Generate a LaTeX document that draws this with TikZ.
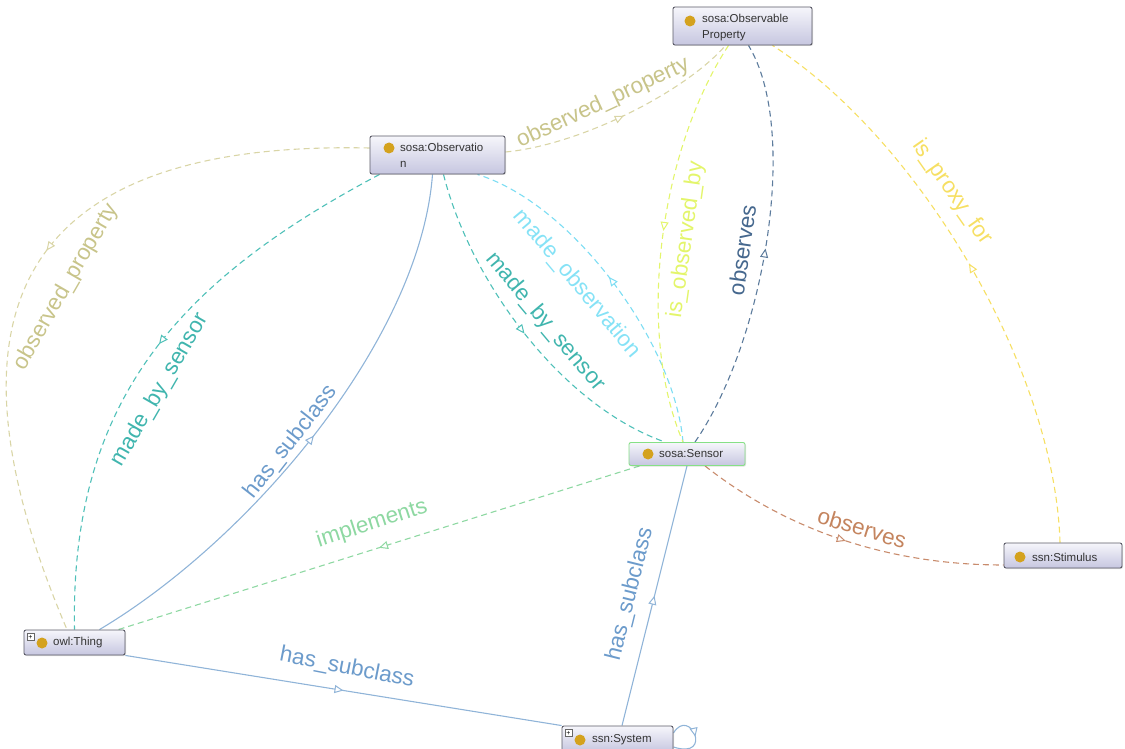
\documentclass[tikz,border=0pt]{standalone}
\usepackage{fontspec}
\setmainfont{Liberation Sans}
\usetikzlibrary{arrows.meta,decorations.markings,shadows}
\definecolor{nodeborder}{HTML}{5A5A66}
\definecolor{ntop}{HTML}{F6F6FB}
\definecolor{nbot}{HTML}{C6C6E0}
\definecolor{dotc}{HTML}{D4A21E}
\definecolor{sensorborder}{HTML}{86E086}
\definecolor{khakiL}{HTML}{D9D5A6}
\definecolor{khakiT}{HTML}{C8C48A}
\definecolor{tealL}{HTML}{4FC0B8}
\definecolor{tealT}{HTML}{40B5AE}
\definecolor{subL}{HTML}{90B4D8}
\definecolor{subT}{HTML}{6C9BCB}
\definecolor{cyanL}{HTML}{7CDDF3}
\definecolor{cyanT}{HTML}{86E2F6}
\definecolor{ygL}{HTML}{E3F56B}
\definecolor{slateL}{HTML}{5C7B9C}
\definecolor{slateT}{HTML}{46688E}
\definecolor{yelL}{HTML}{F6DF63}
\definecolor{brownL}{HTML}{C88B6C}
\definecolor{brownT}{HTML}{C4845E}
\definecolor{greenL}{HTML}{8ED8A2}
\pgfdeclarelayer{background}
\pgfsetlayers{background,main}
\begin{document}
\begin{tikzpicture}[x=1pt,y=1pt,
  cls/.style={draw=nodeborder, line width=0.9pt, rounded corners=2pt, top color=ntop, bottom color=nbot,
    drop shadow={opacity=0.25, shadow xshift=1pt, shadow yshift=-1pt}, inner sep=0pt},
  ntext/.style={font=\fontsize{11.5}{16}\selectfont, text=black!80, anchor=west, inner sep=0pt, align=left},
  dotst/.style={circle, fill=dotc, inner sep=0pt, minimum size=11pt},
  plusbox/.style={draw=black!60, fill=white, minimum size=7pt, inner sep=0pt, font=\fontsize{7}{7}\selectfont},
  elabel/.style={font=\fontsize{22.5}{24}\selectfont, inner sep=0pt},
  edge/.style={line width=1.1pt},
  dsh/.style={dash pattern=on 6pt off 4pt},
  midarrow/.style={postaction={decorate}, decoration={markings, mark=at position #1 with {\arrow[solid, line width=1pt]{Triangle[length=9pt, width=8pt, fill=white]}}}},
  midarrow/.default=0.5]
\useasboundingbox (0,0) rectangle (1125,-749);

% class nodes
\node[cls, minimum width=139pt, minimum height=38pt] (obsprop) at (742.5,-26) {};
\node[dotst] (obspropdot) at (690,-21) {};
\node[ntext] (obsproptext) at (702,-28) {sosa:Observable\\Property};

\node[cls, minimum width=135pt, minimum height=38pt] (obs) at (437.5,-155) {};
\node[dotst] (obsdot) at (389,-148) {};
\node[ntext] (obstext) at (400,-155) {sosa:Observatio\\n};

\node[cls, draw=sensorborder, minimum width=116pt, minimum height=23pt] (sensor) at (687,-454) {};
\node[dotst] (sensordot) at (648,-454) {};
\node[ntext] (sensortext) at (659,-454) {sosa:Sensor};

\node[cls, minimum width=101pt, minimum height=25pt] (thing) at (74.5,-642.5) {};
\node[plusbox] (thingplus) at (30.5,-637) {+};
\node[dotst] (thingdot) at (42,-643) {};
\node[ntext] (thingtext) at (53,-643) {owl:Thing};

\node[cls, minimum width=118pt, minimum height=25pt] (stim) at (1063,-555.5) {};
\node[dotst] (stimdot) at (1020,-557) {};
\node[ntext] (stimtext) at (1032,-557) {ssn:Stimulus};

\node[cls, minimum width=111pt, minimum height=26pt] (system) at (617.5,-739) {};
\node[plusbox] (systemplus) at (568.5,-733) {+};
\node[dotst] (systemdot) at (580,-740) {};
\node[ntext] (systemtext) at (592,-740) {ssn:System};

\begin{pgfonlayer}{background}
% observed_property (top)
\draw[edge, dsh, khakiL, midarrow] ([yshift=3]obs.east) .. controls (580,-145) and (685,-92) .. ([xshift=-17]obsprop.south);
% observed_property (left)
\draw[edge, dsh, khakiL, midarrow=0.47] ([yshift=7]obs.west) .. controls (10,-140) and (-65,-320) .. ([xshift=-7.5]thing.north);
% made_by_sensor (left)
\draw[edge, dsh, tealL, midarrow=0.48] ([xshift=10]obs.south west) .. controls (180,-280) and (70,-400) .. (thing.north);
% has_subclass (left)
\draw[edge, subL, midarrow] ([xshift=25]thing.north) .. controls (250,-540) and (420,-340) .. ([xshift=-5]obs.south);
% made_by_sensor (right)
\draw[edge, dsh, tealL, midarrow=0.5] ([xshift=6]obs.south) .. controls (470,-280) and (560,-405) .. ([xshift=-22]sensor.north);
% made_observation
\draw[edge, dsh, cyanL, midarrow=0.52] ([xshift=-4]sensor.north) .. controls (675,-345) and (575,-205) .. ([xshift=40]obs.south);
% is_observed_by
\draw[edge, dsh, ygL, midarrow=0.48] ([xshift=-14]obsprop.south) .. controls (660,-150) and (635,-330) .. ([xshift=-4]sensor.north);
% observes (slate)
\draw[edge, dsh, slateL, midarrow=0.5] ([xshift=8]sensor.north) .. controls (765,-340) and (800,-130) .. ([xshift=6]obsprop.south);
% is_proxy_for
\draw[edge, dsh, yelL, midarrow=0.5] ([xshift=-3]stim.north) .. controls (1055,-370) and (920,-140) .. ([xshift=30]obsprop.south);
% observes (brown)
\draw[edge, dsh, brownL, midarrow=0.5] ([xshift=18]sensor.south) .. controls (780,-525) and (880,-565) .. ([yshift=-9.5]stim.west);
% implements
\draw[edge, dsh, greenL, midarrow=0.5] ([xshift=11]sensor.south west) -- ([xshift=-7]thing.north east);
% has_subclass (bottom)
\draw[edge, subL, midarrow=0.5] (thing.south east) -- (system.north west);
% has_subclass (right)
\draw[edge, subL, midarrow=0.5] ([xshift=4.5]system.north) -- (sensor.south);
% self loop
\draw[edge, subL, midarrow=0.5] ([yshift=6]system.east) .. controls (690,-706) and (714,-760) .. ([yshift=-8]system.east);
\end{pgfonlayer}

% edge labels
\node[elabel, text=khakiT, rotate=25] (lop1) at (603,-103) {observed\_property};
\node[elabel, text=khakiT, rotate=60] (lop2) at (66,-287) {observed\_property};
\node[elabel, text=tealT, rotate=60] (lmbs1) at (160,-390) {made\_by\_sensor};
\node[elabel, text=subT, rotate=52] (lhs1) at (291,-442) {has\_subclass};
\node[elabel, text=tealT, rotate=-50] (lmbs2) at (545,-322) {made\_by\_sensor};
\node[elabel, text=cyanT, rotate=-50] (lmo) at (577,-284) {made\_observation};
\node[elabel, text=ygL, rotate=82] (liob) at (686,-240) {is\_observed\_by};
\node[elabel, text=slateT, rotate=82] (lobs1) at (742,-250) {observes};
\node[elabel, text=yelL, rotate=-55] (lipf) at (952,-192) {is\_proxy\_for};
\node[elabel, text=brownT, rotate=-17] (lobs2) at (862,-528) {observes};
\node[elabel, text=greenL, rotate=18] (limpl) at (372,-524) {implements};
\node[elabel, text=subT, rotate=-11] (lhs2) at (347,-668) {has\_subclass};
\node[elabel, text=subT, rotate=76] (lhs3) at (630,-594) {has\_subclass};
\end{tikzpicture}
\end{document}
